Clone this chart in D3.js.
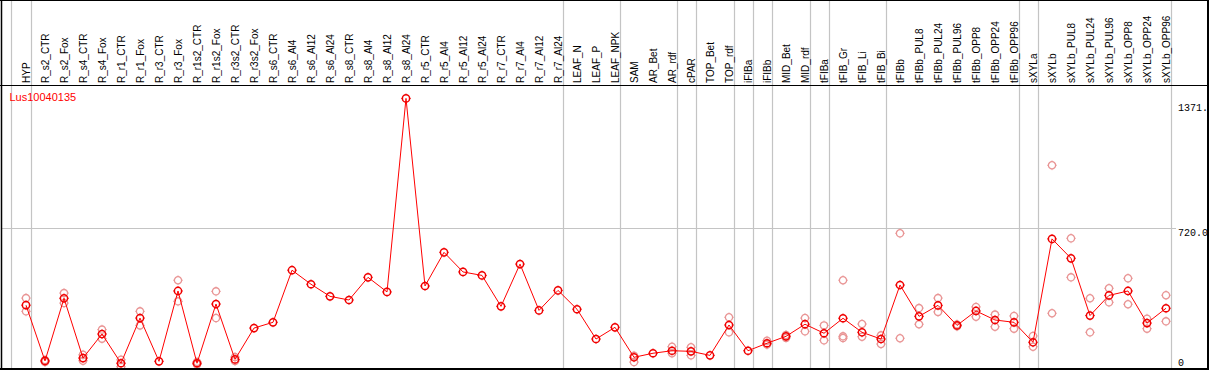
<!DOCTYPE html>
<html><head><meta charset="utf-8">
<script src="https://cdn.jsdelivr.net/npm/d3@7"></script>
<style>html,body{margin:0;padding:0;background:#fff;overflow:hidden}</style>
</head><body>
<script>
const categories = ["HYP","R_s2_CTR","R_s2_Fox","R_s4_CTR","R_s4_Fox","R_r1_CTR","R_r1_Fox","R_r3_CTR","R_r3_Fox","R_r1s2_CTR","R_r1s2_Fox","R_r3s2_CTR","R_r3s2_Fox","R_s6_CTR","R_s6_Al4","R_s6_Al12","R_s6_Al24","R_s8_CTR","R_s8_Al4","R_s8_Al12","R_s8_Al24","R_r5_CTR","R_r5_Al4","R_r5_Al12","R_r5_Al24","R_r7_CTR","R_r7_Al4","R_r7_Al12","R_r7_Al24","LEAF_N","LEAF_P","LEAF_NPK","SAM","AR_Bet","AR_rdf","cPAR","TOP_Bet","TOP_rdf","iFIBa","iFIBb","MID_Bet","MID_rdf","tFIBa","tFIB_Gr","tFIB_Li","tFIB_Bi","tFIBb","tFIBb_PUL8","tFIBb_PUL24","tFIBb_PUL96","tFIBb_OPP8","tFIBb_OPP24","tFIBb_OPP96","sXYLa","sXYLb","sXYLb_PUL8","sXYLb_PUL24","sXYLb_PUL96","sXYLb_OPP8","sXYLb_OPP24","sXYLb_OPP96"];
const means = [320,30,356,45,170,18,253,28,394,18,326,38,201,231,502,429,366,347,465,389,1396,420,595,493,475,314,534,293,397,299,144,205,49,70,83,80,59,217,83,122,158,221,174,252,179,144,425,262,319,215,290,243,231,127,665,564,266,371,394,227,304];
const rep1 = [357,35,383,62,193,36,288,null,450,25,392,50,null,null,null,null,null,null,null,null,null,null,null,null,null,null,null,null,null,null,null,null,57,null,104,101,null,257,null,135,165,253,215,450,222,163,694,305,357,220,311,271,264,160,1048,668,356,408,460,250,372];
const rep2 = [288,25,331,31,146,0,215,null,340,12,253,30,null,null,null,null,null,null,null,null,null,null,null,null,null,null,null,null,null,null,null,null,24,null,70,59,null,179,null,115,150,184,137,158,156,118,148,221,285,210,260,208,198,104,278,465,179,335,325,198,236];
const rep3 = [null,null,null,null,null,null,null,null,null,null,null,null,null,null,null,null,null,null,null,null,null,null,null,null,null,null,null,null,null,null,null,null,null,null,null,null,null,null,null,null,null,null,null,149,null,null,null,null,null,null,null,null,null,null,null,null,null,null,null,null,null];
const groupEnds = ["HYP","R_r7_Al24","LEAF_NPK","AR_rdf","cPAR","TOP_rdf","iFIBa","iFIBb","MID_rdf","tFIBa","tFIB_Bi","tFIBb_OPP96","sXYLa","sXYLb_OPP96"];
const yTickValues = [0, 720, 1371];
const yTickLabels = ["0", "720.0", "1371."];
const geneName = "Lus10040135";

const W = 1209, H = 370;
const svg = d3.select("body").append("svg").attr("width", W).attr("height", H)
  .style("font-family", "'Liberation Sans', Arial, sans-serif");

const x = d3.scalePoint().domain(categories).range([26, 1166]);
const y = d3.scaleLinear().domain([0, 1371]).range([366.7, 103.2]);

const grid = "#c4c4c4";
const sepXs = [x(categories[0]) - 15.3].concat(groupEnds.map(c => x(c) + 4.7));
svg.append("g").selectAll("line").data(sepXs).join("line")
  .attr("x1", d => Math.round(d) + 0.5).attr("x2", d => Math.round(d) + 0.5)
  .attr("y1", 0).attr("y2", H).attr("stroke", grid).attr("stroke-width", 1.2);

svg.append("line").attr("x1", 1).attr("x2", 1176)
  .attr("y1", Math.round(y(720)) + 0.5).attr("y2", Math.round(y(720)) + 0.5)
  .attr("stroke", grid).attr("stroke-width", 1.2);

svg.append("g").selectAll("text").data(categories).join("text")
  .attr("transform", d => `translate(${x(d) + 4},83) rotate(-90)`)
  .attr("font-size", 10).attr("fill", "#000").text(d => d);

svg.append("g").selectAll("text").data(yTickValues).join("text")
  .attr("x", 1178).attr("y", d => Math.min(y(d) + 7.5, 365.5))
  .attr("font-family", "'Liberation Mono', 'DejaVu Sans Mono', monospace")
  .attr("font-size", 10).attr("fill", "#000")
  .text((d, i) => yTickLabels[i]);

svg.append("text").attr("x", 9.5).attr("y", 100.5).attr("font-size", 11)
  .attr("fill", "red").text(geneName);

function marker(g, color, sw) {
  const r = 3.6;
  g.append("circle").attr("r", r).attr("fill", "none").attr("stroke", color).attr("stroke-width", sw);
  [[0,-1],[0,1],[-1,0],[1,0]].forEach(([dx,dy]) => {
    g.append("line").attr("x1", dx*r).attr("y1", dy*r).attr("x2", dx*(r+1.3)).attr("y2", dy*(r+1.3))
      .attr("stroke", color).attr("stroke-width", 0.8);
  });
}

const reps = [];
[rep1, rep2, rep3].forEach(arr => arr.forEach((v, i) => { if (v !== null) reps.push({c: categories[i], v}); }));
svg.append("clipPath").attr("id", "plotclip").append("rect").attr("x", 1).attr("y", 86).attr("width", 1206).attr("height", 282);
const pc = svg.append("g").attr("clip-path", "url(#plotclip)");
pc.selectAll("g.rep").data(reps).join("g").attr("class", "rep")
  .attr("transform", d => `translate(${x(d.c)},${y(d.v)})`)
  .each(function() { marker(d3.select(this), "#e99595", 1.3); });

const pts = categories.map((c, i) => ({c, v: means[i]}));
pc.append("path").datum(pts)
  .attr("d", d3.line().x(d => x(d.c)).y(d => y(d.v)))
  .attr("fill", "none").attr("stroke", "red").attr("stroke-width", 1);

pc.selectAll("g.mean").data(pts).join("g").attr("class", "mean")
  .attr("transform", d => `translate(${x(d.c)},${y(d.v)})`)
  .each(function() { marker(d3.select(this), "#f00000", 1.5); });

svg.append("line").attr("x1", 0).attr("x2", W).attr("y1", 0.5).attr("y2", 0.5).attr("stroke", "#000");
svg.append("line").attr("x1", 0).attr("x2", 1209).attr("y1", 85.5).attr("y2", 85.5).attr("stroke", "#000");
svg.append("line").attr("x1", 0).attr("x2", 1209).attr("y1", 369).attr("y2", 369).attr("stroke", "#000").attr("stroke-width", 2);
svg.append("line").attr("x1", 1.5).attr("x2", 1.5).attr("y1", 0).attr("y2", H).attr("stroke", "#000").attr("stroke-width", 1.5);
svg.append("line").attr("x1", 1208).attr("x2", 1208).attr("y1", 0).attr("y2", H).attr("stroke", "#000").attr("stroke-width", 2);
</script>
</body></html>
